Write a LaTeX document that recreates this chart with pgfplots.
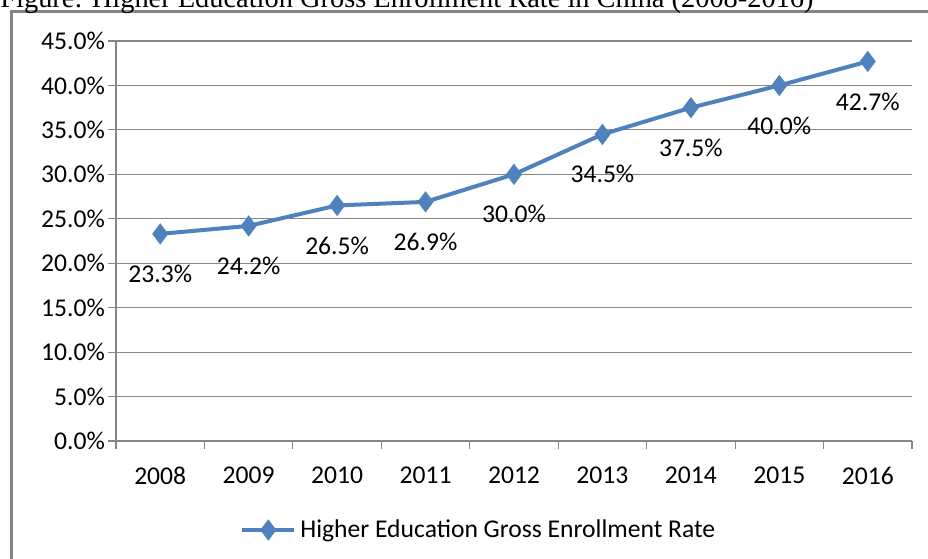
\documentclass[border=0pt]{standalone}
\usepackage{fontspec}
\setmainfont{Carlito}
\newfontfamily\titlefont{Liberation Serif}
\usepackage{pgfplots}
\pgfplotsset{compat=1.18}
\definecolor{ser}{HTML}{4F81BD}
\definecolor{gridc}{HTML}{868686}
\definecolor{framec}{HTML}{858585}
\newcommand{\lblfont}{\fontsize{12.8pt}{15pt}\selectfont}
\begin{document}
\begin{tikzpicture}
\path[use as bounding box] (-58pt,-58.5pt) rectangle (406pt,220.5pt);
\begin{scope}
\clip (-58pt,-58.5pt) rectangle (406pt,220.5pt);
\draw[framec, line width=1.5pt] (-52pt,214.5pt) rectangle (430pt,-80pt);
\node[anchor=base west, inner sep=0pt, font=\titlefont\fontsize{14.2pt}{16pt}\selectfont] at (-58pt,216.5pt) {Figure: Higher Education Gross Enrollment Rate in China (2008-2016)};
\end{scope}
\begin{axis}[
  at={(0pt,0pt)}, anchor=south west,
  scale only axis, width=398pt, height=200pt,
  xmin=-0.5, xmax=8.5, ymin=0, ymax=45,
  axis x line*=bottom, axis y line*=left,
  axis line style={gridc, line width=0.6pt, -},
  tick align=outside,
  major tick length=4pt,
  tick style={gridc, line width=0.6pt},
  xtick={-0.5,0.5,1.5,2.5,3.5,4.5,5.5,6.5,7.5,8.5},
  xticklabels={},
  extra x ticks={0,1,2,3,4,5,6,7,8},
  extra x tick labels={2008,2009,2010,2011,2012,2013,2014,2015,2016},
  extra x tick style={major tick length=0pt, xticklabel style={yshift=-9.5pt}},
  ytick={0,5,10,15,20,25,30,35,40,45},
  yticklabel={\pgfmathprintnumber[fixed,fixed zerofill,precision=1]{\tick}\%},
  yticklabel style={xshift=2pt},
  /pgf/number format/assume math mode=true,
  tick label style={font=\lblfont, text=black},
  ymajorgrids,
  major grid style={gridc, line width=0.6pt},
  legend style={at={(0.457,-0.2225)}, anchor=center, draw=none, fill=none, font=\lblfont, text=black},
  legend image code/.code={\draw[mark repeat=2, mark phase=2, #1] plot coordinates {(0pt,0pt) (13pt,0pt) (26pt,0pt)};},
  nodes near coords={\pgfmathprintnumber[fixed,fixed zerofill,precision=1]{\pgfplotspointmeta}\%},
  every node near coord/.append style={anchor=center, yshift=-20pt, font=\lblfont, text=black},
]
\addplot[ser, line width=2pt, mark=diamond*, mark size=5pt, mark options={solid, fill=ser, draw=ser, line width=0.4pt}]
  coordinates {(0,23.3) (1,24.2) (2,26.5) (3,26.9) (4,30.0) (5,34.5) (6,37.5) (7,40.0) (8,42.7)};
\addlegendentry{Higher Education Gross Enrollment Rate}
\end{axis}
\end{tikzpicture}
\end{document}
